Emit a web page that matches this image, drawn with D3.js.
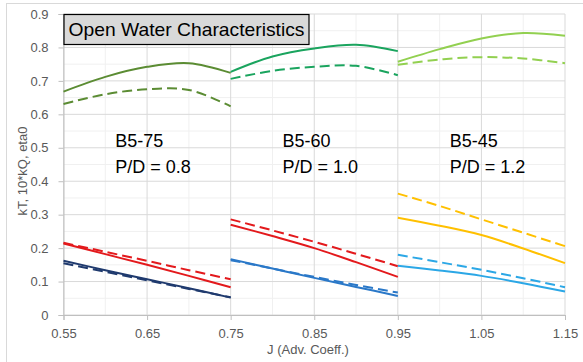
<!DOCTYPE html>
<html>
<head>
<meta charset="utf-8">
<title>Open Water Characteristics</title>
<style>
  body { margin: 0; background: #fff; }
  svg { font-family: "Liberation Sans", Arial, sans-serif; }
</style>
</head>
<body>
<script src="https://cdnjs.cloudflare.com/ajax/libs/d3/7.8.5/d3.min.js"></script>
<script>
// J values for the three propeller ranges
var jB575 = [0.55, 0.60, 0.65, 0.70, 0.75];
var jB560 = [0.75, 0.80, 0.85, 0.90, 0.95];
var jB545 = [0.95, 1.00, 1.05, 1.10, 1.15];

// B5-75, P/D = 0.8  (solid / dashed)
var eta75 = [0.668, 0.712, 0.742, 0.753, 0.724];
var eta75d = [0.631, 0.660, 0.675, 0.673, 0.624];
var kt75 = [0.214, 0.182, 0.150, 0.117, 0.083];
var kt75d = [0.216, 0.189, 0.162, 0.134, 0.107];
var kq75 = [0.162, 0.134, 0.107, 0.080, 0.052];
var kq75d = [0.155, 0.129, 0.104, 0.078, 0.053];

// B5-60, P/D = 1.0
var eta60 = [0.727, 0.773, 0.797, 0.808, 0.789];
var eta60d = [0.706, 0.730, 0.742, 0.745, 0.717];
var kt60 = [0.270, 0.236, 0.200, 0.158, 0.114];
var kt60d = [0.286, 0.253, 0.219, 0.183, 0.146];
var kq60 = [0.167, 0.139, 0.111, 0.084, 0.057];
var kq60d = [0.164, 0.139, 0.114, 0.090, 0.067];

// B5-45, P/D = 1.2
var eta45 = [0.757, 0.795, 0.827, 0.843, 0.835];
var eta45d = [0.748, 0.764, 0.771, 0.767, 0.753];
var kt45 = [0.291, 0.267, 0.239, 0.199, 0.155];
var kt45d = [0.363, 0.326, 0.286, 0.246, 0.206];
var kq45 = [0.147, 0.133, 0.117, 0.095, 0.070];
var kq45d = [0.180, 0.158, 0.135, 0.110, 0.083];

var xTicks = [0.55, 0.65, 0.75, 0.85, 0.95, 1.05, 1.15];
var yTicks = [0, 0.1, 0.2, 0.3, 0.4, 0.5, 0.6, 0.7, 0.8, 0.9];

var W = 583, H = 362;
var margin = {top: 14, right: 18, bottom: 47, left: 63.5};
var width = W - margin.left - margin.right,
    height = H - margin.top - margin.bottom;

var x = d3.scaleLinear().domain([0.55, 1.15]).range([0, width]);
var y = d3.scaleLinear().domain([0, 0.9]).range([height, 0]);

var svg = d3.select("body").append("svg")
    .attr("width", W)
    .attr("height", H);

// chart border
svg.append("rect")
    .attr("x", 6.5).attr("y", 3.5)
    .attr("width", 600).attr("height", 400)
    .attr("fill", "none").attr("stroke", "#d9d9d9");

var g = svg.append("g")
    .attr("transform", "translate(" + margin.left + "," + margin.top + ")");

// minor gridlines
var xMinor = d3.range(0.60, 1.15, 0.1);
var yMinor = d3.range(0.05, 0.9, 0.1);
g.selectAll(".xminor").data(xMinor).enter().append("line")
    .attr("x1", d => x(d)).attr("x2", d => x(d))
    .attr("y1", 0).attr("y2", height)
    .attr("stroke", "#f0f0f0");
g.selectAll(".yminor").data(yMinor).enter().append("line")
    .attr("x1", 0).attr("x2", width)
    .attr("y1", d => y(d)).attr("y2", d => y(d))
    .attr("stroke", "#f0f0f0");

// major gridlines
g.selectAll(".xmajor").data(xTicks).enter().append("line")
    .attr("x1", d => x(d)).attr("x2", d => x(d))
    .attr("y1", 0).attr("y2", height)
    .attr("stroke", "#d9d9d9");
g.selectAll(".ymajor").data(yTicks).enter().append("line")
    .attr("x1", 0).attr("x2", width)
    .attr("y1", d => y(d)).attr("y2", d => y(d))
    .attr("stroke", "#d9d9d9");

// axes
var xAxis = g.append("g")
    .attr("transform", "translate(0," + height + ")")
    .call(d3.axisBottom(x).tickValues(xTicks).tickSize(5).tickPadding(9).tickFormat(d3.format(".2f")));
var yAxis = g.append("g")
    .call(d3.axisLeft(y).tickValues(yTicks).tickSize(5).tickPadding(10).tickFormat(d => d === 0 ? "0" : d3.format(".1f")(d)));
[xAxis, yAxis].forEach(function(a) {
  a.select(".domain").attr("stroke", "#bfbfbf");
  a.selectAll(".tick line").attr("stroke", "#bfbfbf");
  a.selectAll("text").attr("fill", "#595959").style("font-size", "13px")
    .style("font-family", "'Liberation Sans', Arial, sans-serif");
});

// series
var series = [
  {j: jB575, v: eta75, c: "#5b8c33", dash: false},
  {j: jB575, v: eta75d, c: "#5b8c33", dash: true},
  {j: jB575, v: kt75, c: "#e3191c", dash: false},
  {j: jB575, v: kt75d, c: "#e3191c", dash: true},
  {j: jB575, v: kq75, c: "#1f3a6e", dash: false},
  {j: jB575, v: kq75d, c: "#1f3a6e", dash: true},
  {j: jB560, v: eta60, c: "#1aa45e", dash: false},
  {j: jB560, v: eta60d, c: "#1aa45e", dash: true},
  {j: jB560, v: kt60, c: "#e3191c", dash: false},
  {j: jB560, v: kt60d, c: "#e3191c", dash: true},
  {j: jB560, v: kq60, c: "#2a78c8", dash: false},
  {j: jB560, v: kq60d, c: "#2a78c8", dash: true},
  {j: jB545, v: eta45, c: "#92d050", dash: false},
  {j: jB545, v: eta45d, c: "#92d050", dash: true},
  {j: jB545, v: kt45, c: "#ffc000", dash: false},
  {j: jB545, v: kt45d, c: "#ffc000", dash: true},
  {j: jB545, v: kq45, c: "#2ba7e6", dash: false},
  {j: jB545, v: kq45d, c: "#2ba7e6", dash: true}
];

var line = d3.line()
    .x(d => x(d[0]))
    .y(d => y(d[1]))
    .curve(d3.curveCatmullRom.alpha(0.5));

g.selectAll(".series").data(series).enter().append("path")
    .attr("d", s => line(s.j.map((jj, i) => [jj, s.v[i]])))
    .attr("fill", "none")
    .attr("stroke", s => s.c)
    .attr("stroke-width", 2)
    .attr("stroke-dasharray", s => s.dash ? "10,5" : null);

// propeller labels
var labels = [
  {j: 0.55, name: "B5-75", pd: "P/D = 0.8"},
  {j: 0.75, name: "B5-60", pd: "P/D = 1.0"},
  {j: 0.95, name: "B5-45", pd: "P/D = 1.2"}
];
labels.forEach(function(l) {
  g.append("text").attr("x", x(l.j + 0.062)).attr("y", 133)
    .attr("font-size", 18).attr("fill", "#000").text(l.name);
  g.append("text").attr("x", x(l.j + 0.062)).attr("y", 159)
    .attr("font-size", 18).attr("fill", "#000").text(l.pd);
});

// title box
g.append("rect")
    .attr("x", 0.5).attr("y", 0.5)
    .attr("width", 245).attr("height", 30)
    .attr("fill", "#d9d9d9").attr("stroke", "#000").attr("stroke-width", 1.2);
g.append("text").attr("x", 5).attr("y", 22)
    .attr("font-size", 19).attr("fill", "#000")
    .attr("textLength", 236).attr("lengthAdjust", "spacingAndGlyphs")
    .text("Open Water Characteristics");

// axis titles
svg.append("text")
    .attr("transform", "translate(27,171) rotate(-90)")
    .attr("text-anchor", "middle")
    .attr("font-size", 13).attr("fill", "#595959")
    .text("kT, 10*kQ, eta0");
svg.append("text")
    .attr("x", 308).attr("y", 354)
    .attr("text-anchor", "middle")
    .attr("font-size", 13).attr("fill", "#595959")
    .text("J (Adv. Coeff.)");
</script>
</body>
</html>
